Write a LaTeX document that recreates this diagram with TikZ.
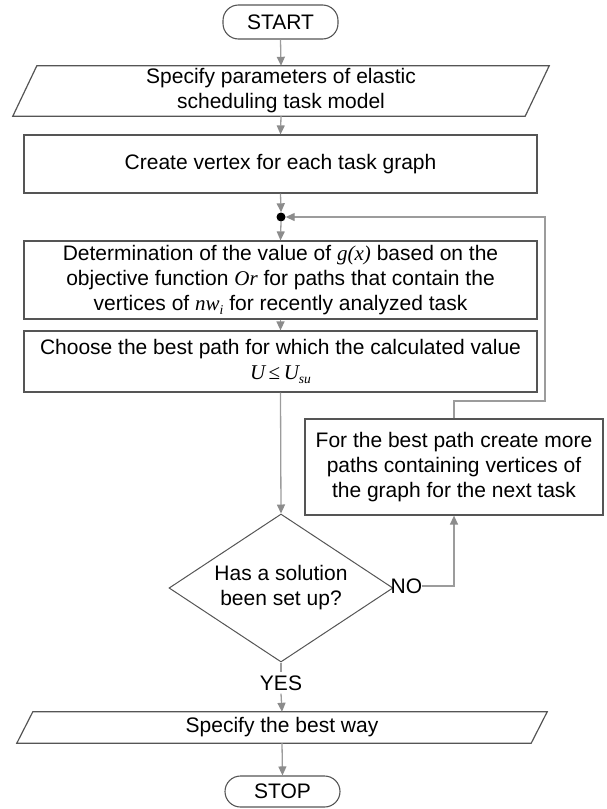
\documentclass[tikz,border=0pt]{standalone}
\usepackage{fontspec}
\setmainfont{Liberation Sans}
\newfontfamily\tmsfont{Liberation Serif}
\usetikzlibrary{arrows.meta,shapes.geometric,calc}
\definecolor{boxline}{HTML}{555555}
\definecolor{flowline}{HTML}{9C9C9C}
\definecolor{tipgray}{HTML}{8C8C8C}
% italic serif variables with a small lowered index
\newcommand{\mvar}[1]{{\tmsfont\itshape #1}}
\newcommand{\msub}[1]{\raisebox{-0.4ex}{\fontsize{13.5}{13.5}\selectfont\tmsfont\itshape #1}}

\begin{document}
\begin{tikzpicture}[x=1pt,y=-1pt,
  every node/.style={font=\fontsize{21}{25}\selectfont, text=black},
  box/.style={draw=boxline, line width=1.2pt, rectangle, align=center, inner sep=0pt},
  term/.style={draw=boxline, line width=1.1pt, rectangle, rounded corners=15.5pt, inner sep=0pt},
  io/.style={rectangle, align=center, inner sep=0pt},
  iodraw/.style={draw=boxline, line width=1.2pt, line join=miter},
  conn/.style={draw=flowline, line width=1.3pt},
  arr/.style={conn, -{Triangle[width=8pt,length=9pt,color=tipgray]}}
]
\useasboundingbox (0,0) rectangle (606,809);

% terminals
\node[term, minimum width=115pt, minimum height=34pt] (start) at (280.5,22) {START};
\node[term, minimum width=115pt, minimum height=31pt] (stop) at (282.5,791.5) {STOP};

% input / output parallelograms (text node + slanted outline)
\node[io, minimum width=512pt, minimum height=50pt] (p1) at (281,91)
  {Specify parameters of elastic\\scheduling task model};
\draw[iodraw] ($(p1.north west)+(12,0)$) -- ($(p1.north east)+(12,0)$)
  -- ($(p1.south east)+(-12,0)$) -- ($(p1.south west)+(-12,0)$) -- cycle;

\node[io, minimum width=514pt, minimum height=31pt] (p2) at (282,727.5)
  {Specify the best way};
\draw[iodraw] ($(p2.north west)+(8,0)$) -- ($(p2.north east)+(8,0)$)
  -- ($(p2.south east)+(-8,0)$) -- ($(p2.south west)+(-8,0)$) -- cycle;

% process boxes
\node[box, minimum width=513pt, minimum height=58pt] (create) at (280.5,164)
  {Create vertex for each task graph};
\node[circle, fill=black, inner sep=0pt, minimum size=9pt] (dot) at (281,217) {};
\node[box, minimum width=513pt, minimum height=78pt] (det) at (280.5,280)
  {Determination of the value of \mvar{g(x)} based on the\\
   objective function \mvar{Or} for paths that contain the\\
   vertices of \mvar{nw}\msub{i} for recently analyzed task};
\node[box, minimum width=513pt, minimum height=61pt] (choose) at (280.5,361.5)
  {Choose the best path for which the calculated value\\
   \mvar{U}\,{\tmsfont ≤}\,\mvar{U}\msub{su}};
\node[box, minimum width=298pt, minimum height=96pt] (more) at (454,467)
  {For the best path create more\\paths containing vertices of\\the graph for the next task};

% decision
\node[diamond, draw=boxline, line width=1pt, aspect=1.52, minimum width=224pt,
      minimum height=148pt, inner sep=0pt, align=center] (dec) at (281,588)
  {Has a solution\\been set up?};
\node[anchor=west, inner sep=0pt] (no) at ($(dec.east)+(-3,-2)$) {NO};
\node[inner sep=3pt] (yes) at (281,683) {YES};

% connectors
\draw[arr] (start.south) -- (p1.north);
\draw[arr] (p1.south) -- (create.north);
\draw[arr] (create.south) -- (dot.north);
\draw[arr] (dot.south) -- (det.north);
\draw[arr] (det.south) -- (choose.north);
\draw[arr] (choose.south) -- (dec.north);
\draw[arr] (no.east) -| (more.south);
\coordinate (fb) at (545,401);
\draw[arr] (more.north) |- (fb) |- (dot.east);
\draw[conn] (dec.south) -- (yes.north);
\draw[arr] (yes.south) -- (p2.north);
\draw[arr] (p2.south) -- (stop.north);
\end{tikzpicture}
\end{document}
